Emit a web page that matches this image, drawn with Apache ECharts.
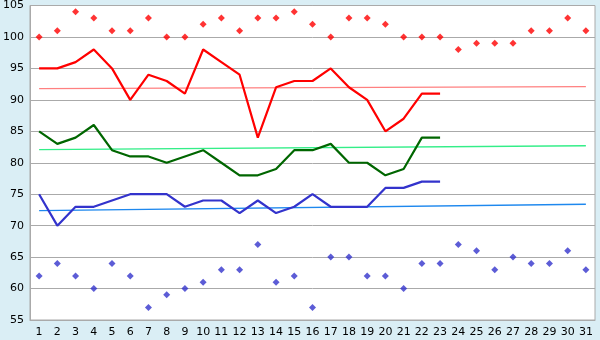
<!DOCTYPE html>
<html>
<head>
<meta charset="utf-8">
<script src="https://cdn.jsdelivr.net/npm/echarts@6/dist/echarts.min.js"></script>
<style>
  html, body { margin: 0; padding: 0; background: #daeef5; }
  #main { width: 600px; height: 340px; }
</style>
</head>
<body>
<div id="main"></div>
<script>
// 数据
var days = [];
for (var d = 1; d <= 31; d++) days.push(String(d));

var redTop    = [100,101,104,103,101,101,103,100,100,102,103,101,103,103,104,102,100,103,103,102,100,100,100,98,99,99,99,101,101,103,101];
var redLine   = [95,95,96,98,95,90,94,93,91,98,96,94,84,92,93,93,95,92,90,85,87,91,91];
var greenLine = [85,83,84,86,82,81,81,80,81,82,80,78,78,79,82,82,83,80,80,78,79,84,84];
var blueLine  = [75,70,73,73,74,75,75,75,73,74,74,72,74,72,73,75,73,73,73,76,76,77,77];
var blueBottom = [62,64,62,60,64,62,57,59,60,61,63,63,67,61,62,57,65,65,62,62,60,64,64,67,66,63,65,64,64,66,63];

// 趋势线 [起点, 终点]
var redTrend   = [91.8, 92.1];
var greenTrend = [82.1, 82.7];
var blueTrend  = [72.4, 73.4];

var yTicks = { min: 55, max: 105, interval: 5 };

function trend(name, ends, color) {
    return {
        name: name,
        type: 'line',
        data: [[0, ends[0]], [days.length - 1, ends[1]]],
        showSymbol: false,
        lineStyle: { color: color, width: 1.3 },
        z: 1
    };
}

function mainLine(name, data, color) {
    return {
        name: name,
        type: 'line',
        data: data,
        showSymbol: false,
        lineStyle: { color: color, width: 2.2 },
        z: 3
    };
}

function dots(name, data, color) {
    return {
        name: name,
        type: 'scatter',
        data: data,
        symbol: 'diamond',
        symbolSize: 7,
        itemStyle: { color: color },
        z: 4
    };
}

var myChart = echarts.init(document.getElementById('main'));

var option = {
    backgroundColor: '#daeef5',
    animation: false,
    textStyle: { fontFamily: 'DejaVu Sans' },
    grid: {
        left: 26, right: 5, top: 5, bottom: 20,
        show: true,
        backgroundColor: '#ffffff',
        borderColor: '#aaaaaa',
        borderWidth: 1
    },
    xAxis: {
        type: 'category',
        data: days,
        boundaryGap: true,
        axisLine: { lineStyle: { color: '#aaaaaa' } },
        axisTick: { alignWithLabel: true, length: 5, lineStyle: { color: '#555555' } },
        axisLabel: { color: '#000', fontSize: 11, margin: 7, interval: 0 },
        splitLine: { show: false }
    },
    yAxis: {
        type: 'value',
        min: yTicks.min,
        max: yTicks.max,
        interval: yTicks.interval,
        axisLine: { show: true, lineStyle: { color: '#aaaaaa' } },
        axisTick: { show: false },
        axisLabel: { color: '#000', fontSize: 11, margin: 6 },
        splitLine: { lineStyle: { color: '#aaaaaa', width: 1 } }
    },
    series: [
        trend('红趋势', redTrend, '#ff8080'),
        trend('绿趋势', greenTrend, '#33ee88'),
        trend('蓝趋势', blueTrend, '#1e88ee'),
        mainLine('红', redLine, '#ff0000'),
        mainLine('绿', greenLine, '#006600'),
        mainLine('蓝', blueLine, '#3333cc'),
        dots('上', redTop, '#ff0000'),
        dots('下', blueBottom, '#3333cc')
    ]
};

myChart.setOption(option);
</script>
</body>
</html>
